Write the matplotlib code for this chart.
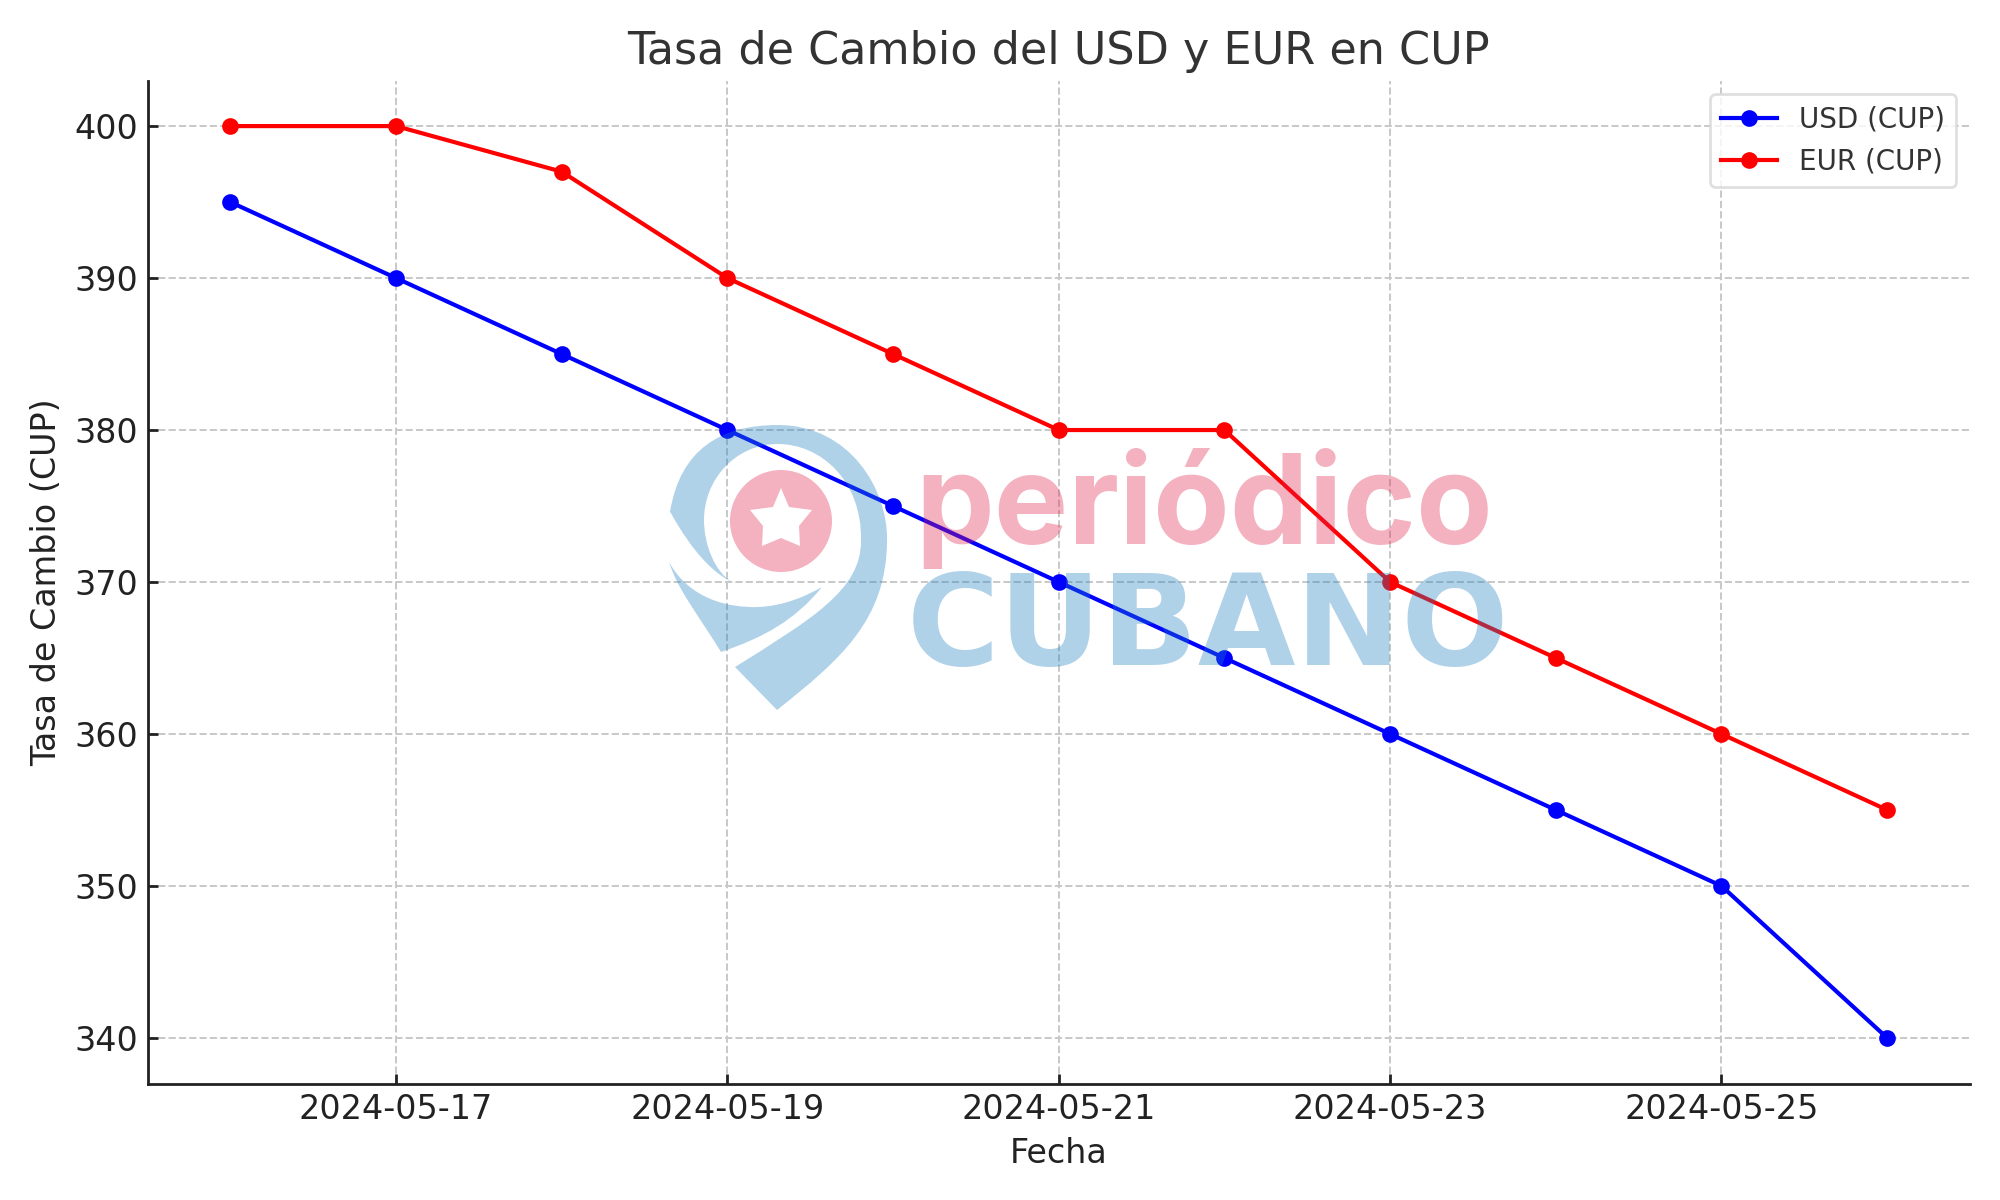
"""
Tasa de cambio USD / EUR en CUP, con marca de agua
"""
import matplotlib
matplotlib.use('Agg')
import matplotlib.pyplot as plt
import matplotlib.dates as mdates
import pandas as pd
from matplotlib.path import Path
from matplotlib.patches import PathPatch

dates = ['2024-05-16', '2024-05-17', '2024-05-18', '2024-05-19', '2024-05-20', '2024-05-21',
         '2024-05-22', '2024-05-23', '2024-05-24', '2024-05-25', '2024-05-26']
usd = [395, 390, 385, 380, 375, 370, 365, 360, 355, 350, 340]
eur = [400, 400, 397, 390, 385, 380, 380, 370, 365, 360, 355]

BLUE_WM = '#1d7fc0'
PINK_WM = '#e0204b'
WM_ALPHA = 0.35
W, H = 2000, 1200


def fig_xy(x, y):
    # pixel coords of the reference -> figure fraction
    return x / W, 1 - y / H


def shape(commands):
    # commands: list of (code, [(x, y), ...]) in pixels
    verts, codes = [], []
    for code, pts in commands:
        for p in pts:
            verts.append(fig_xy(*p))
            codes.append(code)
    return verts, codes


def add_logo(fig):
    M, C, L, Z = Path.MOVETO, Path.CURVE4, Path.LINETO, Path.CLOSEPOLY

    # crescent + pin
    v, c = shape([
        (M, [(732, 582)]),
        (C, [(696, 565), (670, 510), (670, 512)]),
        (C, [(680, 450), (720, 425), (778, 425)]),
        (C, [(850, 425), (888, 490), (887, 540)]),
        (C, [(887, 620), (840, 660), (777, 710)]),
        (L, [(735, 667)]),
        (C, [(810, 620), (862, 590), (861, 540)]),
        (C, [(862, 480), (820, 444), (778, 444)]),
        (C, [(735, 444), (704, 480), (704, 520)]),
        (C, [(704, 545), (715, 572), (732, 582)]),
        (Z, [(732, 582)]),
    ])
    fig.add_artist(PathPatch(Path(v, c), transform=fig.transFigure, facecolor=BLUE_WM,
                             edgecolor='none', alpha=WM_ALPHA, zorder=10))

    # lower left swoosh
    v, c = shape([
        (M, [(669, 562)]),
        (C, [(690, 600), (730, 608), (758, 607)]),
        (C, [(785, 606), (808, 595), (822, 587)]),
        (C, [(795, 620), (765, 637), (721, 652)]),
        (C, [(695, 610), (678, 590), (669, 562)]),
        (Z, [(669, 562)]),
    ])
    fig.add_artist(PathPatch(Path(v, c), transform=fig.transFigure, facecolor=BLUE_WM,
                             edgecolor='none', alpha=WM_ALPHA, zorder=10))

    # circle with star cut out
    cx, cy, r = 781, 521, 51
    circle = Path.unit_circle()
    v = [fig_xy(cx + r * px, cy + r * py) for px, py in circle.vertices]
    c = list(circle.codes)
    star = [(781, 488), (773, 507), (750, 510), (763, 526), (762, 546), (781, 538),
            (800, 546), (799, 526), (812, 510), (789, 507), (781, 488)]
    v += [fig_xy(*p) for p in star]
    c += [M] + [L] * 9 + [Z]
    fig.add_artist(PathPatch(Path(v, c), transform=fig.transFigure, facecolor=PINK_WM,
                             edgecolor='none', alpha=WM_ALPHA, zorder=10))

    x, y = fig_xy(915, 544)
    fig.text(x, y, 'periódico', family='Inter', weight='bold', fontsize=45, color=PINK_WM,
             alpha=WM_ALPHA, va='baseline', ha='left', zorder=10)
    x, y = fig_xy(907, 665)
    fig.text(x, y, 'CUBANO', family='DejaVu Sans', weight='bold', fontsize=45.5, color=BLUE_WM,
             alpha=WM_ALPHA, va='baseline', ha='left', zorder=10)


def main():
    x = pd.to_datetime(dates)

    fig, ax = plt.subplots(figsize=(10, 6), dpi=200)
    fig.subplots_adjust(left=147.5 / W, right=1970 / W, top=1 - 80.5 / H, bottom=1 - 1083.5 / H)

    ax.plot(x, usd, marker='o', markersize=5, color='blue', linewidth=1.5, label='USD (CUP)')
    ax.plot(x, eur, marker='o', markersize=5, color='red', linewidth=1.5, label='EUR (CUP)')

    ax.set_title('Tasa de Cambio del USD y EUR en CUP', fontsize=16, color='#333333', pad=6)
    ax.set_xlabel('Fecha', fontsize=12, color='#222222')
    ax.set_ylabel('Tasa de Cambio (CUP)', fontsize=12, color='#222222')

    ax.xaxis.set_major_locator(mdates.DayLocator(bymonthday=[17, 19, 21, 23, 25]))
    ax.xaxis.set_major_formatter(mdates.DateFormatter('%Y-%m-%d'))
    ax.tick_params(axis='both', direction='in', labelsize=12, width=1, length=3.5,
                   color='#222222', labelcolor='#222222')
    ax.grid(True, linestyle='--', color='#c8c8c8', linewidth=0.7)
    ax.set_axisbelow(True)

    ax.spines['top'].set_visible(False)
    ax.spines['right'].set_visible(False)
    ax.spines['left'].set_linewidth(1)
    ax.spines['bottom'].set_linewidth(1)
    ax.spines['left'].set_color('#222222')
    ax.spines['bottom'].set_color('#222222')

    leg = ax.legend(loc='upper right', fontsize=10, framealpha=0.8, labelcolor='#333333')
    leg.get_frame().set_edgecolor('#d8d8d8')

    add_logo(fig)

    plt.savefig('out.png', dpi=200)
    plt.close()


if __name__ == "__main__":
    main()
